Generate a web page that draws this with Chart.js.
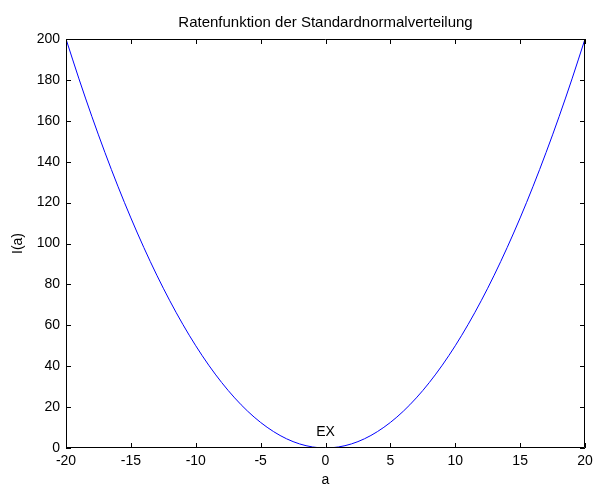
<!DOCTYPE html>
<html>
<head>
<meta charset="utf-8">
<script src="https://cdn.jsdelivr.net/npm/chart.js@4/dist/chart.umd.min.js"></script>
<style>
  html, body { margin: 0; padding: 0; background: #fff; }
  #wrap { width: 595px; height: 487px; }
</style>
</head>
<body>
<div id="wrap"><canvas id="chart" width="595" height="487"></canvas></div>
<script>
const aValues = [-20, -19, -18, -17, -16, -15, -14, -13, -12, -11, -10, -9, -8, -7, -6, -5, -4, -3, -2, -1,
  0, 1, 2, 3, 4, 5, 6, 7, 8, 9, 10, 11, 12, 13, 14, 15, 16, 17, 18, 19, 20];
const iValues = [200, 180.5, 162, 144.5, 128, 112.5, 98, 84.5, 72, 60.5, 50, 40.5, 32, 24.5, 18, 12.5, 8, 4.5, 2, 0.5,
  0, 0.5, 2, 4.5, 8, 12.5, 18, 24.5, 32, 40.5, 50, 60.5, 72, 84.5, 98, 112.5, 128, 144.5, 162, 180.5, 200];
const xTicks = [-20, -15, -10, -5, 0, 5, 10, 15, 20];
const yTicks = [0, 20, 40, 60, 80, 100, 120, 140, 160, 180, 200];
const notes = [{ x: 0, y: 0, text: "EX" }];

const font = "'Liberation Sans', Arial, sans-serif";

// box around the plot and inward ticks on all four sides
const boxTicks = {
  id: "boxTicks",
  afterDraw(chart) {
    const { ctx, chartArea: ca, scales } = chart;
    const len = 5;
    ctx.save();
    ctx.strokeStyle = "#000";
    ctx.lineWidth = 1;
    ctx.beginPath();
    ctx.rect(ca.left + 0.5, ca.top + 0.5, ca.right - ca.left - 1, ca.bottom - ca.top - 1);
    xTicks.forEach((t) => {
      const px = Math.round(scales.x.getPixelForValue(t)) + 0.5;
      ctx.moveTo(px, ca.bottom);
      ctx.lineTo(px, ca.bottom - len);
      ctx.moveTo(px, ca.top);
      ctx.lineTo(px, ca.top + len);
    });
    yTicks.forEach((t) => {
      const py = Math.round(scales.y.getPixelForValue(t)) + 0.5;
      ctx.moveTo(ca.left, py);
      ctx.lineTo(ca.left + len, py);
      ctx.moveTo(ca.right, py);
      ctx.lineTo(ca.right - len, py);
    });
    ctx.stroke();
    ctx.fillStyle = "#000";
    ctx.font = "14px " + font;
    ctx.textAlign = "center";
    ctx.textBaseline = "bottom";
    notes.forEach((n) => {
      ctx.fillText(n.text, scales.x.getPixelForValue(n.x), scales.y.getPixelForValue(n.y) - 9);
    });
    ctx.restore();
  },
};

const ctx = document.getElementById("chart");
new Chart(ctx, {
  type: "line",
  data: {
    labels: aValues,
    datasets: [
      {
        data: aValues.map((a, i) => ({ x: a, y: iValues[i] })),
        borderColor: "#0000ff",
        borderWidth: 1,
        pointRadius: 0,
        cubicInterpolationMode: "monotone",
        fill: false,
      },
    ],
  },
  options: {
    responsive: false,
    animation: false,
    layout: { padding: { left: 0, right: 10, top: 0, bottom: 0 } },
    plugins: {
      legend: { display: false },
      tooltip: { enabled: false },
      title: {
        display: true,
        fullSize: false,
        text: "Ratenfunktion der Standardnormalverteilung",
        color: "#000",
        font: { family: font, size: 15, weight: "normal" },
        padding: { top: 14, bottom: 7 },
      },
    },
    scales: {
      x: {
        type: "linear",
        min: -20,
        max: 20,
        afterBuildTicks: (s) => { s.ticks = xTicks.map((v) => ({ value: v })); },
        afterFit: (s) => { s.height = 39; s.paddingLeft = 0; s.paddingRight = 0; },
        grid: { display: false, drawTicks: false },
        border: { display: false },
        ticks: { color: "#000", padding: 5, maxRotation: 0, font: { family: font, size: 14 } },
        title: { display: true, text: "a", color: "#000", padding: { top: 0, bottom: -2 }, font: { family: font, size: 14 } },
      },
      y: {
        min: 0,
        max: 200,
        afterBuildTicks: (s) => { s.ticks = yTicks.map((v) => ({ value: v })); },
        afterFit: (s) => { s.width = 66; s.paddingTop = 0; s.paddingBottom = 0; },
        grid: { display: false, drawTicks: false },
        border: { display: false },
        ticks: { color: "#000", padding: 6, font: { family: font, size: 14 } },
        title: { display: true, text: "I(a)", color: "#000", padding: { top: 10, bottom: 0 }, font: { family: font, size: 14 } },
      },
    },
  },
  plugins: [boxTicks],
});
</script>
</body>
</html>
